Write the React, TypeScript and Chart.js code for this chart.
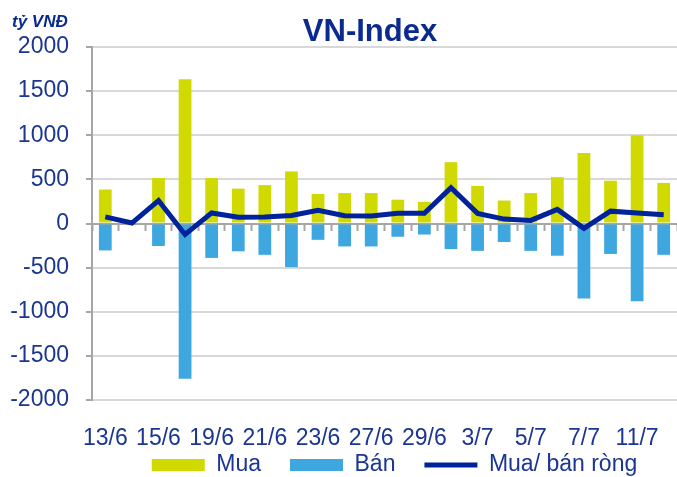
import React, { useEffect, useRef } from 'react';
import { Chart, registerables } from 'chart.js';

Chart.register(...registerables);

const categories = ['13/6', '14/6', '15/6', '16/6', '19/6', '20/6', '21/6', '22/6', '23/6', '26/6', '27/6', '28/6', '29/6', '30/6', '3/7', '4/7', '5/7', '6/7', '7/7', '10/7', '11/7', '12/7'];
const buyValues = [385, 0, 515, 1635, 515, 395, 435, 590, 335, 345, 345, 270, 245, 695, 425, 260, 345, 525, 800, 485, 1000, 460];
const sellValues = [-305, 0, -255, -1760, -390, -315, -355, -495, -185, -260, -260, -150, -125, -290, -310, -210, -310, -365, -850, -345, -880, -355];
const netValues = [75, 5, 260, -125, 120, 72, 75, 90, 150, 88, 85, 115, 115, 405, 115, 50, 35, 160, -55, 140, 120, 100];
const seriesNames = ['Mua', 'Bán', 'Mua/ bán ròng'];
const yMin = -2000;
const yMax = 2000;
const yStep = 500;

const FONT = 'Arial, "Liberation Sans", sans-serif';
const TEXT = '#1A3690';
const TITLE = '#0A2A8F';
const YELLOW = '#D0DA00';
const BLUE = '#3EA7DF';
const NAVY = '#00229A';
const AXIS = '#A6A6A6';
const GRID = '#D9D9D9';

const headerPlugin = {
  id: 'headerText',
  afterDraw(chart: any) {
    const ctx = chart.ctx;
    ctx.save();
    ctx.fillStyle = TITLE;
    ctx.textBaseline = 'alphabetic';
    ctx.textAlign = 'center';
    ctx.font = `bold 31px ${FONT}`;
    ctx.fillText('VN-Index', 370, 41);
    ctx.textAlign = 'left';
    ctx.font = `italic bold 17px ${FONT}`;
    ctx.fillText('tỷ VNĐ', 12, 27);
    ctx.restore();
  },
};

const layoutTweakPlugin = {
  id: 'layoutTweak',
  afterLayout(chart: any) {
    const l = chart.legend;
    if (l) {
      l.top += 9.5;
      l.bottom += 9.5;
      l.left += 10;
      l.right += 10;
    }
    const s = chart.scales.x2;
    if (s) {
      s.bottom = chart.height;
    }
  },
};

const noPad = (scale: any) => {
  scale.paddingLeft = 0;
  scale.paddingRight = 0;
};

export default function App() {
  const ref = useRef<HTMLCanvasElement | null>(null);

  useEffect(() => {
    document.body.style.margin = '0';
    const canvas = ref.current;
    if (!canvas) return;
    const chart = new Chart(canvas, {
      type: 'bar',
      data: {
        labels: categories,
        datasets: [
          {
            type: 'line',
            label: seriesNames[2],
            data: netValues,
            borderColor: NAVY,
            backgroundColor: NAVY,
            borderWidth: 5,
            pointRadius: 0,
            tension: 0,
            stack: 'net',
            order: 0,
            borderJoinStyle: 'miter',
          } as any,
          {
            type: 'bar',
            label: seriesNames[0],
            data: buyValues,
            backgroundColor: YELLOW,
            borderWidth: 0,
            stack: 'bars',
            order: 1,
            barPercentage: 0.48,
            categoryPercentage: 1,
          },
          {
            type: 'bar',
            label: seriesNames[1],
            data: sellValues,
            backgroundColor: BLUE,
            borderWidth: 0,
            stack: 'bars',
            order: 1,
            barPercentage: 0.48,
            categoryPercentage: 1,
          },
        ],
      },
      options: {
        animation: false,
        responsive: false,
        layout: { padding: { top: 47, left: 0, right: 0, bottom: 0 } },
        plugins: {
          title: { display: false },
          tooltip: { enabled: false },
          legend: {
            position: 'bottom',
            fullSize: false,
            labels: {
              usePointStyle: true,
              pointStyleWidth: 53,
              boxHeight: 12,
              padding: 29,
              font: { size: 23, family: FONT },
              color: TEXT,
              generateLabels: () => [
                { text: seriesNames[0], fillStyle: YELLOW, strokeStyle: YELLOW, lineWidth: 0, pointStyle: 'rect', hidden: false, datasetIndex: 1, fontColor: TEXT },
                { text: seriesNames[1], fillStyle: BLUE, strokeStyle: BLUE, lineWidth: 0, pointStyle: 'rect', hidden: false, datasetIndex: 2, fontColor: TEXT },
                { text: seriesNames[2], fillStyle: NAVY, strokeStyle: NAVY, lineWidth: 5, pointStyle: 'line', hidden: false, datasetIndex: 0, fontColor: TEXT },
              ],
            },
          },
        },
        scales: {
          x: {
            type: 'category',
            stacked: true,
            offset: true,
            position: { y: 0 } as any,
            z: 1,
            ticks: { display: false },
            grid: {
              offset: true,
              drawOnChartArea: false,
              drawTicks: true,
              tickLength: 6,
              tickColor: AXIS,
              tickWidth: 2,
            },
            border: { display: true, color: AXIS, width: 2 },
            afterFit: noPad,
          },
          x2: {
            type: 'category',
            display: true,
            labels: categories,
            position: 'bottom',
            offset: true,
            grid: { display: false, drawTicks: false, offset: true },
            border: { display: false },
            ticks: {
              display: true,
              autoSkip: false,
              maxRotation: 0,
              minRotation: 0,
              padding: 25,
              color: TEXT,
              font: { size: 23, family: FONT },
              callback: (_v: any, i: number) => (i % 2 === 0 ? categories[i] : ''),
            },
            afterFit: (scale: any) => {
              noPad(scale);
              scale.height = 15;
            },
          },
          y: {
            stacked: true,
            min: yMin,
            max: yMax,
            ticks: {
              stepSize: yStep,
              padding: 17,
              color: TEXT,
              font: { size: 23, family: FONT },
              callback: (v: any) => String(v),
            },
            grid: {
              color: GRID,
              lineWidth: 2,
              drawTicks: true,
              tickLength: 6,
              tickColor: AXIS,
              tickWidth: 2,
            },
            border: { display: true, color: AXIS, width: 2 },
            afterFit: (scale: any) => {
              scale.width = 92;
            },
          },
        },
      } as any,
      plugins: [headerPlugin, layoutTweakPlugin],
    });
    return () => chart.destroy();
  }, []);

  return (
    <div style={{ width: 677, height: 477 }}>
      <canvas ref={ref} width={677} height={477} />
    </div>
  );
}
